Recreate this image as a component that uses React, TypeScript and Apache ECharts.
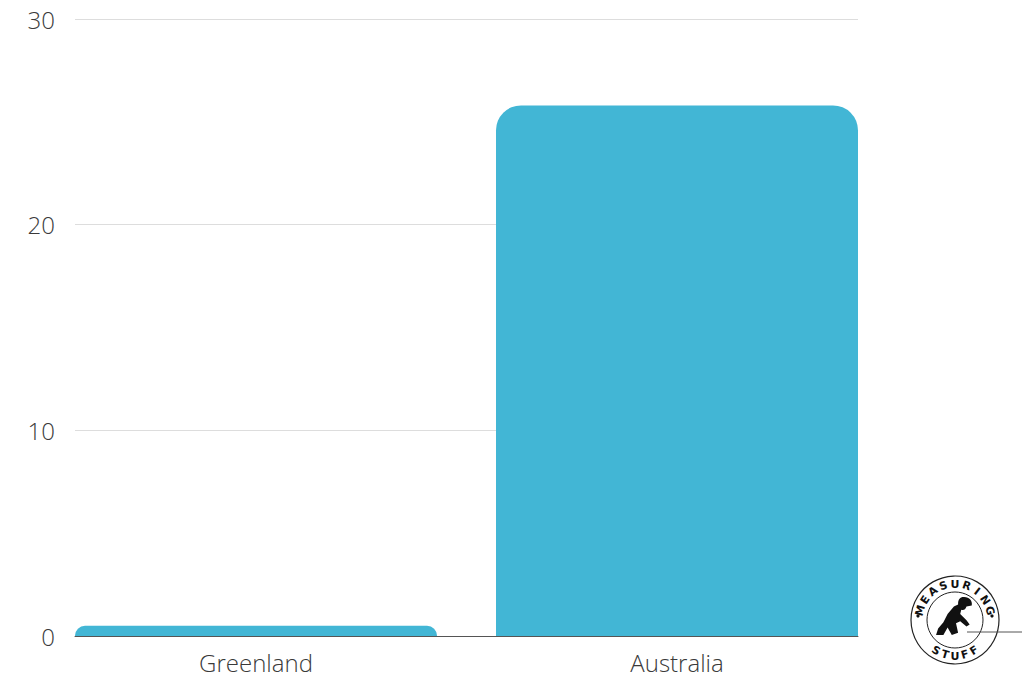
import { useEffect, useRef } from 'react';
import * as echarts from 'echarts';

const categories = ['Greenland', 'Australia'];
const values = [0.5, 25.8];
const yMin = 0;
const yMax = 30;
const yStep = 10;

const barColor = '#42b6d5';
const textColor = '#3a3a3a';
const font = '"Open Sans", "Noto Sans", sans-serif';

// rough kneeling worker for the corner badge
const figurePath =
  'M26 2 C32 1 36 5 35 10 L30 11 C29 14 27 15 25 14 L24 18 L30 24 L33 28 L30 30 L24 25 L20 27 L22 36 L16 38 L12 31 L8 38 L1 38 L3 32 L8 26 L12 18 L18 11 L22 9 C22 5 23 3 26 2 Z';
echarts.graphic.registerShape('worker', (echarts.graphic as any).extendPath(figurePath, {}));

const badgeCx = 955;
const badgeCy = 620;

const arcLetters = (word: string, from: number, to: number, r: number, top: boolean) => {
  const n = word.length;
  return word.split('').map((ch, i) => {
    const t = from + ((to - from) * i) / (n - 1);
    const a = (t * Math.PI) / 180;
    return {
      type: 'text',
      x: badgeCx + r * Math.cos(a),
      y: badgeCy + r * Math.sin(a),
      rotation: top ? -(a + Math.PI / 2) : -(a - Math.PI / 2),
      style: {
        text: ch,
        fill: '#111',
        font: 'bold 11px "DejaVu Sans", sans-serif',
        align: 'center',
        verticalAlign: 'middle',
      },
      z: 10,
    };
  });
};

const App = () => {
  const ref = useRef<HTMLDivElement>(null);

  useEffect(() => {
    if (!ref.current) return;
    const chart = echarts.init(ref.current, null, { renderer: 'svg' });

    const option: any = {
      animation: false,
      backgroundColor: '#ffffff',
      grid: [
        { left: 75, width: 783, top: 19, height: 617 },
        { left: 45.5, width: 842, top: 19, height: 617 },
      ],
      xAxis: [
        {
          gridIndex: 0,
          type: 'category',
          data: categories,
          axisLine: { show: true, lineStyle: { color: '#555', width: 1 } },
          axisTick: { show: false },
          axisLabel: { show: false },
        },
        {
          gridIndex: 1,
          type: 'category',
          data: categories,
          axisLine: { show: false },
          axisTick: { show: false },
          axisLabel: { color: textColor, fontSize: 24, fontFamily: font, fontWeight: 300, margin: 14 },
        },
      ],
      yAxis: [
        {
          gridIndex: 0,
          type: 'value',
          min: yMin,
          max: yMax,
          interval: yStep,
          axisLine: { show: false },
          axisTick: { show: false },
          splitLine: { lineStyle: { color: '#dddddd', width: 1 } },
          axisLabel: { color: textColor, fontSize: 24, fontFamily: font, fontWeight: 300, margin: 20 },
        },
        { gridIndex: 1, type: 'value', min: yMin, max: yMax, interval: yStep, show: false },
      ],
      series: [
        {
          type: 'bar',
          xAxisIndex: 1,
          yAxisIndex: 1,
          barWidth: 362,
          data: values.map((v, i) => ({
            value: v,
            itemStyle: { borderRadius: i === 0 ? [10, 10, 0, 0] : [25, 25, 0, 0] },
          })),
          itemStyle: { color: barColor },
        },
      ],
      graphic: [
        { type: 'circle', shape: { cx: badgeCx, cy: badgeCy, r: 44 }, style: { fill: '#fff', stroke: '#222', lineWidth: 1.2 }, z: 5 },
        { type: 'circle', shape: { cx: badgeCx, cy: badgeCy, r: 28 }, style: { fill: '#fff', stroke: '#222', lineWidth: 1 }, z: 6 },
        { type: 'circle', shape: { cx: badgeCx - 37, cy: badgeCy - 4, r: 1.6 }, style: { fill: '#111' }, z: 10 },
        { type: 'circle', shape: { cx: badgeCx + 37, cy: badgeCy - 4, r: 1.6 }, style: { fill: '#111' }, z: 10 },
        { type: 'line', shape: { x1: badgeCx + 12, y1: badgeCy + 12, x2: 1022, y2: badgeCy + 12 }, style: { stroke: '#555', lineWidth: 1 }, z: 7 },
        { type: 'worker', x: badgeCx - 20, y: badgeCy - 25, scaleX: 1.05, scaleY: 1.05, style: { fill: '#111' }, z: 8 },
        ...arcLetters('MEASURING', -165, -15, 36, true),
        ...arcLetters('STUFF', 122, 58, 36, false),
      ],
    };

    chart.setOption(option);
    return () => chart.dispose();
  }, []);

  return <div ref={ref} style={{ position: 'fixed', left: 0, top: 0, width: 1024, height: 683 }} />;
};

export default App;
